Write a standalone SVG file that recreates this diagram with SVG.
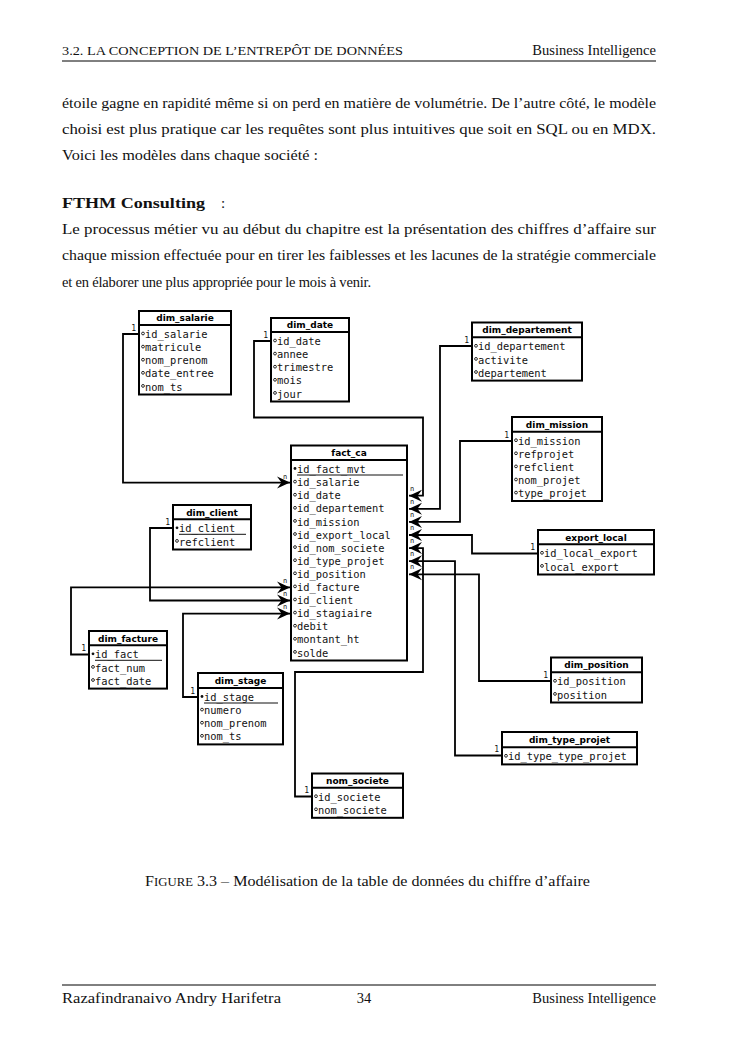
<svg xmlns="http://www.w3.org/2000/svg" width="745" height="1053" viewBox="0 0 745 1053">
<style>
.pg{font-family:"Liberation Serif",serif;fill:#111}
.box{fill:#fff;stroke:#000;stroke-width:2}
.sep{stroke:#000;stroke-width:2}
.th{font-family:"DejaVu Sans",sans-serif;font-weight:bold;font-size:9px;text-anchor:middle;fill:#000}
.tr{font-family:"DejaVu Sans Mono",monospace;font-size:10.4px;fill:#111}
.oc{fill:#fff;stroke:#111;stroke-width:0.9}
.fc{fill:#111}
.ul{stroke:#111;stroke-width:1}
.con{fill:none;stroke:#000;stroke-width:1.8;marker-end:url(#arr)}
.one{font-family:"DejaVu Sans Mono",monospace;font-size:8px;text-anchor:end;fill:#111}
.n{font-family:"DejaVu Sans Mono",monospace;font-size:7px;fill:#222}
</style>
<defs>
<marker id="arr" viewBox="-14 -7 15 14" refX="0" refY="0" markerWidth="15" markerHeight="14" markerUnits="userSpaceOnUse" orient="auto">
<path d="M0,0 L-13,-6 L-8.5,0 L-13,6 Z" fill="#000"/>
</marker>
</defs>
<rect width="745" height="1053" fill="#fff"/>
<g id="page">
<text class="pg" x="62" y="55" font-size="11.5" textLength="341" lengthAdjust="spacingAndGlyphs">3.2.  LA CONCEPTION DE L’ENTREPÔT DE DONNÉES</text>
<text class="pg" x="656" y="55" font-size="14.5" text-anchor="end">Business Intelligence</text>
<line x1="62" y1="61" x2="656" y2="61" stroke="#000" stroke-width="1"/>
<text class="pg" x="62" y="108" font-size="15" textLength="594" lengthAdjust="spacingAndGlyphs">étoile gagne en rapidité même si on perd en matière de volumétrie. De l’autre côté, le modèle</text>
<text class="pg" x="62" y="134" font-size="15" textLength="594" lengthAdjust="spacingAndGlyphs">choisi est plus pratique car les requêtes sont plus intuitives que soit en SQL ou en MDX.</text>
<text class="pg" x="62" y="160" font-size="15" textLength="256" lengthAdjust="spacingAndGlyphs">Voici les modèles dans chaque société :</text>
<text class="pg" x="62" y="208" font-size="15" font-weight="bold" textLength="143" lengthAdjust="spacingAndGlyphs">FTHM Consulting</text>
<text class="pg" x="221" y="208" font-size="15">:</text>
<text class="pg" x="62" y="234" font-size="15" textLength="594" lengthAdjust="spacingAndGlyphs">Le processus métier vu au début du chapitre est la présentation des chiffres d’affaire sur</text>
<text class="pg" x="62" y="260" font-size="15" textLength="594" lengthAdjust="spacingAndGlyphs">chaque mission effectuée pour en tirer les faiblesses et les lacunes de la stratégie commerciale</text>
<text class="pg" x="62" y="287" font-size="14.5" textLength="309" lengthAdjust="spacing">et en élaborer une plus appropriée pour le mois à venir.</text>
<text class="pg" x="145" y="886" font-size="14.5" textLength="445" lengthAdjust="spacingAndGlyphs">F<tspan font-size="11.5">IGURE</tspan> 3.3 – Modélisation de la table de données du chiffre d’affaire</text>
<line x1="62" y1="985" x2="656" y2="985" stroke="#000" stroke-width="1"/>
<text class="pg" x="62" y="1003" font-size="14.5" textLength="219" lengthAdjust="spacingAndGlyphs">Razafindranaivo Andry Harifetra</text>
<text class="pg" x="364" y="1003" font-size="14.5" text-anchor="middle">34</text>
<text class="pg" x="656" y="1003" font-size="14.5" text-anchor="end">Business Intelligence</text>
</g>

<g id="connectors">
<path class="con" d="M139,334 H123 V482.6 H290"/>
<path class="con" d="M271,341 H254 V417.5 H423 V495.7 H409"/>
<path class="con" d="M472,346 H440 V508.8 H409"/>
<path class="con" d="M512,441 H460 V521.9 H409"/>
<path class="con" d="M538,553.5 H472 V535 H409"/>
<path class="con" d="M312,796.5 H295 V672 H423 V548.1 H409"/>
<path class="con" d="M502,755.5 H455 V561.2 H409"/>
<path class="con" d="M551,681 H479 V574.3 H409"/>
<path class="con" d="M89,654.5 H71 V587.4 H290"/>
<path class="con" d="M173,528 H150 V600.5 H290"/>
<path class="con" d="M198,697 H183 V613.6 H290"/>
<text class="one" x="136" y="331">1</text>
<text class="one" x="268" y="338">1</text>
<text class="one" x="469" y="343">1</text>
<text class="one" x="509" y="438">1</text>
<text class="one" x="535" y="550">1</text>
<text class="one" x="309" y="793">1</text>
<text class="one" x="499" y="752">1</text>
<text class="one" x="548" y="678">1</text>
<text class="one" x="86" y="651">1</text>
<text class="one" x="170" y="525">1</text>
<text class="one" x="195" y="694">1</text>
<text class="n" x="283" y="479">n</text>
<text class="n" x="410" y="491">n</text>
<text class="n" x="410" y="504">n</text>
<text class="n" x="410" y="517">n</text>
<text class="n" x="410" y="530">n</text>
<text class="n" x="410" y="543">n</text>
<text class="n" x="410" y="556">n</text>
<text class="n" x="410" y="569">n</text>
<text class="n" x="283" y="583">n</text>
<text class="n" x="283" y="596">n</text>
<text class="n" x="283" y="609">n</text>
</g>

<g id="dim_salarie">
<rect class="box" x="139" y="311" width="92" height="83.5"/>
<line class="sep" x1="139" y1="325" x2="231" y2="325"/>
<text class="th" x="185" y="321.3">dim_salarie</text>
<circle class="oc" cx="143" cy="333.5" r="1.4"/><text class="tr" x="145" y="338.1">id_salarie</text>
<circle class="oc" cx="143" cy="346.6" r="1.4"/><text class="tr" x="145" y="351.2">matricule</text>
<circle class="oc" cx="143" cy="359.7" r="1.4"/><text class="tr" x="145" y="364.3">nom_prenom</text>
<circle class="oc" cx="143" cy="372.8" r="1.4"/><text class="tr" x="145" y="377.4">date_entree</text>
<circle class="oc" cx="143" cy="385.9" r="1.4"/><text class="tr" x="145" y="390.5">nom_ts</text>
</g>

<g id="dim_date">
<rect class="box" x="271" y="318" width="78" height="83.5"/>
<line class="sep" x1="271" y1="332" x2="349" y2="332"/>
<text class="th" x="310" y="328.3">dim_date</text>
<circle class="oc" cx="275" cy="340.5" r="1.4"/><text class="tr" x="277" y="345.1">id_date</text>
<circle class="oc" cx="275" cy="353.6" r="1.4"/><text class="tr" x="277" y="358.2">annee</text>
<circle class="oc" cx="275" cy="366.7" r="1.4"/><text class="tr" x="277" y="371.3">trimestre</text>
<circle class="oc" cx="275" cy="379.8" r="1.4"/><text class="tr" x="277" y="384.4">mois</text>
<circle class="oc" cx="275" cy="392.9" r="1.4"/><text class="tr" x="277" y="397.5">jour</text>
</g>

<g id="dim_departement">
<rect class="box" x="472" y="322.5" width="110" height="58.1"/>
<line class="sep" x1="472" y1="337.3" x2="582" y2="337.3"/>
<text class="th" x="527" y="333.2">dim_departement</text>
<circle class="oc" cx="476" cy="345.8" r="1.4"/><text class="tr" x="478" y="350.4">id_departement</text>
<circle class="oc" cx="476" cy="358.9" r="1.4"/><text class="tr" x="478" y="363.5">activite</text>
<circle class="oc" cx="476" cy="372" r="1.4"/><text class="tr" x="478" y="376.6">departement</text>
</g>

<g id="dim_mission">
<rect class="box" x="512" y="417" width="90" height="84"/>
<line class="sep" x1="512" y1="431.7" x2="602" y2="431.7"/>
<text class="th" x="557" y="427.6">dim_mission</text>
<circle class="oc" cx="516" cy="440.2" r="1.4"/><text class="tr" x="518" y="444.8">id_mission</text>
<circle class="oc" cx="516" cy="453.3" r="1.4"/><text class="tr" x="518" y="457.9">refprojet</text>
<circle class="oc" cx="516" cy="466.4" r="1.4"/><text class="tr" x="518" y="471">refclient</text>
<circle class="oc" cx="516" cy="479.5" r="1.4"/><text class="tr" x="518" y="484.1">nom_projet</text>
<circle class="oc" cx="516" cy="492.6" r="1.4"/><text class="tr" x="518" y="497.2">type_projet</text>
</g>

<g id="fact_ca">
<rect class="box" x="291" y="445.5" width="116" height="215"/>
<line class="sep" x1="291" y1="460" x2="407" y2="460"/>
<text class="th" x="349" y="456">fact_ca</text>
<circle class="fc" cx="295" cy="468.5" r="1.4"/><text class="tr" x="297" y="473.1">id_fact_mvt</text>
<line class="ul" x1="297" y1="475" x2="403" y2="475"/>
<circle class="oc" cx="295" cy="481.6" r="1.4"/><text class="tr" x="297" y="486.2">id_salarie</text>
<circle class="oc" cx="295" cy="494.7" r="1.4"/><text class="tr" x="297" y="499.3">id_date</text>
<circle class="oc" cx="295" cy="507.8" r="1.4"/><text class="tr" x="297" y="512.4">id_departement</text>
<circle class="oc" cx="295" cy="520.9" r="1.4"/><text class="tr" x="297" y="525.5">id_mission</text>
<circle class="oc" cx="295" cy="534" r="1.4"/><text class="tr" x="297" y="538.6">id_export_local</text>
<circle class="oc" cx="295" cy="547.1" r="1.4"/><text class="tr" x="297" y="551.7">id_nom_societe</text>
<circle class="oc" cx="295" cy="560.2" r="1.4"/><text class="tr" x="297" y="564.8">id_type_projet</text>
<circle class="oc" cx="295" cy="573.3" r="1.4"/><text class="tr" x="297" y="577.9">id_position</text>
<circle class="oc" cx="295" cy="586.4" r="1.4"/><text class="tr" x="297" y="591">id_facture</text>
<circle class="oc" cx="295" cy="599.5" r="1.4"/><text class="tr" x="297" y="604.1">id_client</text>
<circle class="oc" cx="295" cy="612.6" r="1.4"/><text class="tr" x="297" y="617.2">id_stagiaire</text>
<circle class="oc" cx="295" cy="625.7" r="1.4"/><text class="tr" x="297" y="630.3">debit</text>
<circle class="oc" cx="295" cy="638.8" r="1.4"/><text class="tr" x="297" y="643.4">montant_ht</text>
<circle class="oc" cx="295" cy="651.9" r="1.4"/><text class="tr" x="297" y="656.5">solde</text>
</g>

<g id="export_local">
<rect class="box" x="538" y="530" width="116" height="44.5"/>
<line class="sep" x1="538" y1="544.3" x2="654" y2="544.3"/>
<text class="th" x="596" y="540.5">export_local</text>
<circle class="oc" cx="542" cy="552.8" r="1.4"/><text class="tr" x="544" y="557.4">id_local_export</text>
<circle class="oc" cx="542" cy="565.9" r="1.4"/><text class="tr" x="544" y="570.5">local_export</text>
</g>

<g id="dim_client">
<rect class="box" x="173" y="505" width="78" height="44.5"/>
<line class="sep" x1="173" y1="519.3" x2="251" y2="519.3"/>
<text class="th" x="212" y="515.5">dim_client</text>
<circle class="fc" cx="177" cy="527.8" r="1.4"/><text class="tr" x="179" y="532.4">id_client</text>
<line class="ul" x1="179" y1="534.3" x2="246" y2="534.3"/>
<circle class="oc" cx="177" cy="540.9" r="1.4"/><text class="tr" x="179" y="545.5">refclient</text>
</g>

<g id="dim_facture">
<rect class="box" x="89" y="631" width="78" height="57.6"/>
<line class="sep" x1="89" y1="645.3" x2="167" y2="645.3"/>
<text class="th" x="128" y="641.5">dim_facture</text>
<circle class="fc" cx="93" cy="653.8" r="1.4"/><text class="tr" x="95" y="658.4">id_fact</text>
<line class="ul" x1="95" y1="660.3" x2="162" y2="660.3"/>
<circle class="oc" cx="93" cy="666.9" r="1.4"/><text class="tr" x="95" y="671.5">fact_num</text>
<circle class="oc" cx="93" cy="680" r="1.4"/><text class="tr" x="95" y="684.6">fact_date</text>
</g>

<g id="dim_stage">
<rect class="box" x="198" y="673" width="85" height="71.4"/>
<line class="sep" x1="198" y1="688" x2="283" y2="688"/>
<text class="th" x="240.5" y="683.8">dim_stage</text>
<circle class="fc" cx="202" cy="696.5" r="1.4"/><text class="tr" x="204" y="701.1">id_stage</text>
<line class="ul" x1="204" y1="703" x2="278" y2="703"/>
<circle class="oc" cx="202" cy="709.6" r="1.4"/><text class="tr" x="204" y="714.2">numero</text>
<circle class="oc" cx="202" cy="722.7" r="1.4"/><text class="tr" x="204" y="727.3">nom_prenom</text>
<circle class="oc" cx="202" cy="735.8" r="1.4"/><text class="tr" x="204" y="740.4">nom_ts</text>
</g>

<g id="dim_position">
<rect class="box" x="551" y="657.5" width="91" height="45"/>
<line class="sep" x1="551" y1="672.3" x2="642" y2="672.3"/>
<text class="th" x="596.5" y="668.2">dim_position</text>
<circle class="oc" cx="555" cy="680.8" r="1.4"/><text class="tr" x="557" y="685.4">id_position</text>
<circle class="oc" cx="555" cy="693.9" r="1.4"/><text class="tr" x="557" y="698.5">position</text>
</g>

<g id="dim_type_projet">
<rect class="box" x="502" y="732" width="135" height="32.4"/>
<line class="sep" x1="502" y1="747.3" x2="637" y2="747.3"/>
<text class="th" x="569.5" y="743">dim_type_projet</text>
<circle class="oc" cx="506" cy="755.8" r="1.4"/><text class="tr" x="508" y="760.4">id_type_type_projet</text>
</g>

<g id="nom_societe">
<rect class="box" x="312" y="773.5" width="91" height="44.3"/>
<line class="sep" x1="312" y1="787.7" x2="403" y2="787.7"/>
<text class="th" x="357.5" y="783.9">nom_societe</text>
<circle class="oc" cx="316" cy="796.2" r="1.4"/><text class="tr" x="318" y="800.8">id_societe</text>
<circle class="oc" cx="316" cy="809.3" r="1.4"/><text class="tr" x="318" y="813.9">nom_societe</text>
</g>
</svg>
